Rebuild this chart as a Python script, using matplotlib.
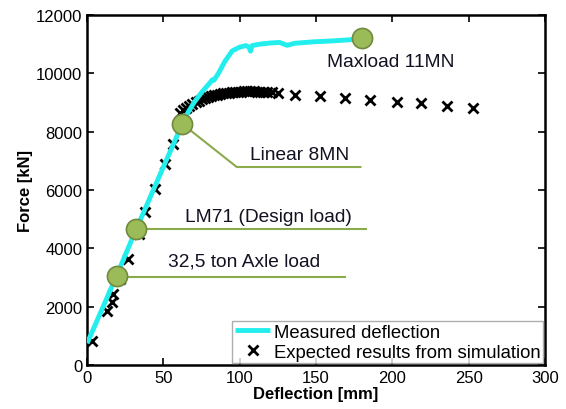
import matplotlib
matplotlib.use('Agg')
import matplotlib.pyplot as plt

plt.rcParams['font.family'] = ['Liberation Sans', 'DejaVu Sans']

# measured deflection (cyan line)
meas_x = [0, 5, 10, 20, 30, 40, 50, 58, 62, 66, 70, 75, 80, 82, 83, 86, 90, 95, 100,
          104, 106, 107, 108, 113, 120, 126, 131, 136, 148, 160, 172, 180]
meas_y = [750, 1350, 1950, 3150, 4400, 5600, 6800, 7750, 8260, 8650, 9000, 9350, 9650,
          9780, 9760, 10000, 10390, 10770, 10900, 10950, 10900, 10760, 10950, 11000,
          11040, 11060, 10960, 11030, 11080, 11110, 11150, 11200]

# simulation results (black crosses)
sim_x = [3.3, 13, 16.4, 17.2, 21.6, 27, 34, 38, 44.5, 51, 56.5,
         61, 63, 65, 67, 69, 71, 73, 75, 77, 79, 81, 83, 85, 87, 89, 91, 93, 95, 97,
         99, 101, 103, 105, 107, 109, 111, 113, 115, 118, 121,
         125, 136, 152.6, 169, 185, 203, 219, 236, 253]
sim_y = [820, 1850, 2160, 2430, 2950, 3630, 4490, 5250, 6030, 6890, 7580,
         8650, 8740, 8820, 8890, 8950, 9010, 9060, 9110, 9150, 9190, 9220, 9250, 9270,
         9290, 9310, 9330, 9340, 9350, 9360, 9370, 9375, 9380, 9380, 9380, 9380, 9375,
         9370, 9365, 9360, 9360,
         9330, 9270, 9220, 9160, 9100, 9030, 8980, 8890, 8820]

# load points and labels
load_x = [180, 62, 32, 19.6]
load_y = [11200, 8280, 4650, 3050]
load_labels = ['Maxload 11MN', 'Linear 8MN', 'LM71 (Design load)', '32,5 ton Axle load']

fig = plt.figure(figsize=(5.66, 4.10), dpi=100)
ax = fig.add_axes([0.154, 0.107, 0.809, 0.854])

ax.plot(meas_x, meas_y, color='#22EEEE', lw=3.5, solid_capstyle='butt',
        label='Measured deflection', zorder=3)
ax.plot(sim_x, sim_y, ls='none', marker='x', color='black', ms=7, mew=2,
        label='Expected results from simulation', zorder=2)

green = '#8AAA4C'
# leader lines
ax.plot([62, 98, 179], [8280, 6790, 6790], color=green, lw=1.5, zorder=4)
ax.plot([32, 183], [4650, 4650], color=green, lw=1.5, zorder=4)
ax.plot([19.6, 169], [3030, 3030], color=green, lw=1.5, zorder=4)

ax.plot(load_x, load_y, ls='none', marker='o', ms=14.5, mfc='#9BBB59',
        mec='#71893F', mew=1.2, zorder=5)

label_pos = [(199, 10390), (139, 7230), (118.5, 5090), (103, 3565)]
for (tx, ty), txt in zip(label_pos, load_labels):
    ax.text(tx, ty, txt, ha='center', va='center', fontsize=13.8, color='#111122')

ax.set_xlim(0, 300)
ax.set_ylim(0, 12000)
ax.set_xticks([0, 50, 100, 150, 200, 250, 300])
ax.set_yticks([0, 2000, 4000, 6000, 8000, 10000, 12000])
ax.tick_params(direction='in', top=True, right=True, labelsize=12, length=5, width=1.2)
for s in ax.spines.values():
    s.set_linewidth(1.8)

ax.set_xlabel('Deflection [mm]', fontsize=12, fontweight='bold', labelpad=1)
ax.set_ylabel('Force [kN]', fontsize=12, fontweight='bold', labelpad=2)

leg = ax.legend(loc='lower right', fontsize=13.3, frameon=True, fancybox=False,
                edgecolor='#999999', handlelength=1.9, borderpad=0.15,
                labelspacing=0.15, handletextpad=0.2, borderaxespad=0.1)
leg.get_frame().set_linewidth(1.0)

fig.savefig('out.png', dpi=100)
